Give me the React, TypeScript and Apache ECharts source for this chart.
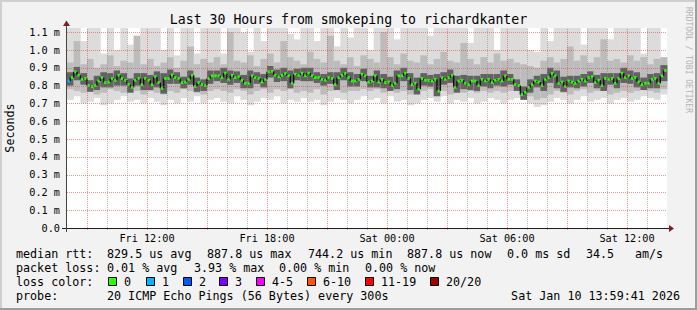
import React, { useEffect, useRef } from 'react';
import * as echarts from 'echarts';

// ---- data (milliseconds) ----
// median RTT, one value every 10 minutes starting Fri 08:00
const medianRtt = [
  0.826,0.845,0.878,0.858,0.835,0.84,0.8,0.795,0.8,0.826,0.845,0.817,0.82,0.84,0.83,0.858,0.84,0.83,0.806,0.79,0.83,0.84,
  0.806,0.84,0.83,0.806,0.85,0.817,0.785,0.84,0.84,0.86,0.845,0.84,0.817,0.82,0.835,0.858,0.795,0.817,0.806,0.8,0.84,0.855,
  0.855,0.855,0.845,0.87,0.835,0.858,0.845,0.85,0.83,0.813,0.813,0.855,0.845,0.84,0.82,0.835,0.878,0.88,0.858,0.85,0.858,0.868,0.855,
  0.813,0.864,0.858,0.87,0.855,0.87,0.855,0.845,0.845,0.835,0.83,0.845,0.84,0.806,0.845,0.858,0.868,0.845,0.826,0.826,0.835,0.864,
  0.855,0.82,0.826,0.855,0.82,0.835,0.817,0.82,0.8,0.813,0.855,0.855,0.87,0.84,0.806,0.813,0.78,0.84,0.83,0.83,0.826,0.835,0.77,
  0.845,0.835,0.845,0.858,0.79,0.826,0.83,0.813,0.806,0.826,0.826,0.8,0.835,0.826,0.835,0.817,0.83,0.835,0.826,0.855,0.835,0.835,
  0.806,0.8,0.75,0.763,0.79,0.806,0.826,0.82,0.8,0.835,0.845,0.868,0.855,0.813,0.82,0.795,0.826,0.82,0.813,0.826,0.835,0.826,0.845,
  0.85,0.817,0.83,0.8,0.84,0.835,0.84,0.813,0.84,0.87,0.845,0.855,0.84,0.845,0.82,0.806,0.813,0.813,0.835,0.84,0.813,0.855,0.885,
];
// smoke envelopes, one value every 20 minutes
const smokeMax = [
  1.13,1.13,1.05,1.13,1.13,0.98,1.13,1.0,1.13,1.03,1.08,1.13,1.13,1.13,1.0,1.13,0.97,1.13,1.13,0.98,1.13,1.13,
  1.13,0.98,1.13,1.13,1.1,0.99,1.13,1.05,1.13,1.13,1.13,1.09,1.06,1.13,1.13,1.05,1.13,1.13,1.02,1.13,1.07,1.13,1.13,
  1.0,1.13,1.13,1.13,1.06,1.13,1.13,1.13,1.13,1.08,1.13,1.13,1.13,1.13,1.13,1.04,1.13,1.13,1.13,1.0,1.13,1.13,1.13,
  1.13,1.0,0.99,1.13,1.05,1.13,1.13,1.13,1.13,1.03,1.13,1.13,1.13,1.06,1.13,1.13,1.13,1.13,0.98,1.13,1.13,0.94,
];
const smokeUpper = [
  0.93,1.05,0.92,0.95,0.9,0.92,0.97,0.91,0.94,0.93,1.08,0.92,0.95,0.91,0.93,0.96,0.9,0.94,1.02,0.92,0.95,0.93,
  0.96,0.92,1.1,0.94,0.93,0.97,0.91,0.95,0.98,0.93,1.05,0.96,0.94,0.92,0.99,0.95,0.93,1.08,0.94,0.92,0.96,0.91,0.97,
  0.95,0.93,1.1,0.96,0.92,0.98,0.94,0.93,0.97,0.92,0.95,0.99,0.94,0.93,1.04,0.95,0.92,0.96,0.93,0.98,0.94,0.95,0.93,
  0.92,0.91,0.9,0.94,0.96,0.93,0.95,1.02,0.94,0.97,0.93,0.96,1.06,0.94,0.95,0.93,0.97,0.94,0.96,0.92,0.95,0.96,
];
const smokeLower = [
  0.78,0.77,0.76,0.77,0.75,0.76,0.78,0.77,0.76,0.78,0.77,0.75,0.77,0.76,0.75,0.77,0.76,0.78,0.77,0.76,0.75,0.77,
  0.78,0.77,0.76,0.78,0.77,0.75,0.77,0.78,0.76,0.78,0.77,0.78,0.76,0.77,0.76,0.78,0.75,0.77,0.78,0.76,0.77,0.77,0.78,
  0.77,0.78,0.76,0.78,0.76,0.77,0.75,0.76,0.77,0.78,0.76,0.77,0.75,0.77,0.76,0.77,0.76,0.77,0.76,0.77,0.76,0.77,0.78,
  0.76,0.74,0.72,0.73,0.75,0.77,0.76,0.75,0.77,0.78,0.76,0.77,0.77,0.75,0.76,0.77,0.76,0.77,0.78,0.77,0.76,0.78,
];
const smokeMin = [
  0.72,0.74,0.7,0.71,0.73,0.69,0.7,0.72,0.74,0.71,0.72,0.7,0.73,0.71,0.69,0.72,0.7,0.73,0.71,0.74,0.7,0.72,
  0.73,0.71,0.7,0.74,0.72,0.69,0.71,0.73,0.72,0.74,0.7,0.72,0.71,0.73,0.71,0.72,0.69,0.71,0.73,0.72,0.7,0.72,0.74,
  0.72,0.73,0.7,0.74,0.71,0.72,0.69,0.7,0.72,0.73,0.71,0.74,0.7,0.72,0.71,0.73,0.7,0.71,0.73,0.72,0.7,0.72,0.73,
  0.72,0.7,0.68,0.69,0.71,0.73,0.72,0.7,0.72,0.74,0.71,0.72,0.73,0.7,0.72,0.73,0.71,0.72,0.74,0.73,0.72,0.75,
];
const coreHi = [
  0.875,0.905,0.87,0.83,0.855,0.875,0.87,0.885,0.87,0.84,0.87,0.87,0.86,0.88,0.87,0.89,0.875,0.85,0.885,0.845,0.835,0.885,
  0.885,0.9,0.885,0.88,0.86,0.885,0.875,0.865,0.91,0.89,0.9,0.885,0.895,0.9,0.9,0.875,0.865,0.875,0.875,0.9,0.875,0.865,0.895,
  0.855,0.885,0.865,0.85,0.885,0.9,0.87,0.845,0.87,0.86,0.865,0.875,0.89,0.855,0.86,0.855,0.855,0.865,0.865,0.865,0.885,0.865,
  0.835,0.795,0.835,0.855,0.865,0.9,0.885,0.85,0.855,0.855,0.865,0.88,0.86,0.87,0.87,0.87,0.9,0.885,0.875,0.845,0.865,0.87,0.915,
];
const coreLo = [
  0.8,0.83,0.805,0.765,0.775,0.79,0.79,0.8,0.8,0.76,0.8,0.775,0.775,0.79,0.755,0.81,0.81,0.785,0.805,0.765,0.77,0.81,
  0.825,0.815,0.805,0.815,0.785,0.785,0.81,0.79,0.845,0.82,0.825,0.785,0.83,0.825,0.825,0.815,0.8,0.81,0.775,0.83,0.795,0.795,0.825,
  0.79,0.79,0.785,0.77,0.78,0.825,0.775,0.75,0.8,0.795,0.74,0.805,0.815,0.76,0.78,0.775,0.77,0.795,0.785,0.8,0.795,0.805,
  0.77,0.72,0.76,0.79,0.77,0.815,0.785,0.765,0.79,0.785,0.795,0.815,0.785,0.77,0.805,0.785,0.815,0.81,0.79,0.775,0.785,0.785,0.825,
];
const lossOnePingSteps = [0];

const yTickValues = [0.1,0.2,0.3,0.4,0.5,0.6,0.7,0.8,0.9,1.0,1.1];
const majorHours = [1,4,7,10,13,16,19,22,25,28];
const minorHours = [2,3,5,6,8,9,11,12,14,15,17,18,20,21,23,24,26,27,29];
const xLabelHours = [4,10,16,22,28];
const xLabelTexts = ['Fri 12:00','Fri 18:00','Sat 00:00','Sat 06:00','Sat 12:00'];

const titleText = 'Last 30 Hours from smokeping to richardkanter';
const rttStats = ['829.5 us avg','887.8 us max','744.2 us min','887.8 us now','0.0 ms sd','34.5','am/s'];
const lossStats = ['0.01 % avg','3.93 % max','0.00 % min','0.00 % now'];
const lossLabels = ['0','1','2','3','4-5','6-10','11-19','20/20'];
const lossColors = ['#26ff00','#00b8ff','#0059ff','#7e00ff','#ff00ff','#ff5500','#ff0000','#a10000'];
const probeText = '20 ICMP Echo Pings (56 Bytes) every 300s';
const dateText = 'Sat Jan 10 13:59:41 2026';

// ---- layout ----
const W = 697, H = 310;
const GL = 67, GT = 28, GW = 600, GH = 200;
const YMAX = 1.1236;
const HOURS = 30;
const MSTEP = 1 / 6;
const BSTEP = 1 / 3;
const MONO = 'DejaVu Sans Mono';
const rttX = [107, 207, 308, 407, 507, 586, 635];
const lossX = [107, 194, 279, 365];
const boxX = [108, 146, 183, 219, 256, 307, 365, 430];

export default function App() {
  const ref = useRef<HTMLDivElement>(null);
  useEffect(() => {
    document.body.style.margin = '0';
    const chart = echarts.init(ref.current!, null, { renderer: 'svg' });

    const bandRows = smokeMax.map((mx, k) => [k, smokeMin[k], mx, smokeLower[k], smokeUpper[k], coreLo[k], coreHi[k]]);
    const medRows = medianRtt.map((m, i) => [i, m, i > 0 ? medianRtt[i - 1] : m]);
    const vRows = [...minorHours.map(h => [h, 0]), ...majorHours.map(h => [h, 1])];
    const hRows = yTickValues.map(v => [0, v]);

    const text = (x: number, y: number, s: string, extra: any = {}) => ({
      type: 'text', x, y, z: 100,
      style: { text: s, fill: '#000', font: `11.7px "${MONO}"`, textVerticalAlign: 'middle', ...extra },
    });

    const graphics: any[] = [
      { type: 'rect', z: 100, shape: { x: 0, y: 0, width: W, height: 2 }, style: { fill: '#cfcfcf' } },
      { type: 'rect', z: 100, shape: { x: 0, y: 0, width: 2, height: H }, style: { fill: '#cfcfcf' } },
      { type: 'rect', z: 100, shape: { x: W - 2, y: 0, width: 2, height: H }, style: { fill: '#9e9e9e' } },
      { type: 'rect', z: 100, shape: { x: 0, y: H - 2, width: W, height: 2 }, style: { fill: '#9e9e9e' } },
      { type: 'line', z: 100, shape: { x1: 62, y1: 228.5, x2: 670, y2: 228.5 }, style: { stroke: '#1f1f1f', lineWidth: 1 } },
      { type: 'polygon', z: 100, shape: { points: [[669, 225], [674, 228.5], [669, 232]] }, style: { fill: '#801f1f' } },
      { type: 'line', z: 100, shape: { x1: 66.5, y1: 232, x2: 66.5, y2: 24 }, style: { stroke: '#444', lineWidth: 1 } },
      { type: 'polygon', z: 100, shape: { points: [[63, 26], [66.5, 20.5], [70, 26]] }, style: { fill: '#801f1f' } },
      text(348.5, 19, titleText, { font: `13.2px "${MONO}"`, textAlign: 'center' }),
      { type: 'text', x: 10, y: 128, rotation: Math.PI / 2, z: 100,
        style: { text: 'Seconds', fill: '#000', font: `11.7px "${MONO}"`, textAlign: 'center', textVerticalAlign: 'middle' } },
      { type: 'text', x: 688, y: 60, rotation: -Math.PI / 2, z: 100,
        style: { text: 'RRDTOOL / TOBI OETIKER', fill: '#b4b4b4', font: `8px "${MONO}"`, textAlign: 'center', textVerticalAlign: 'middle' } },
      text(16, 254, 'median rtt:'),
      ...rttStats.map((s, i) => text(rttX[i], 254, s)),
      text(16, 268, 'packet loss:'),
      ...lossStats.map((s, i) => text(lossX[i], 268, s)),
      text(16, 282, 'loss color:'),
      ...lossLabels.map((s, i) => text(boxX[i] + 16, 282, s)),
      ...lossColors.map((c, i) => ({ type: 'rect', z: 100, shape: { x: boxX[i] + 0.5, y: 277.5, width: 8, height: 8 },
        style: { fill: c, stroke: '#000', lineWidth: 1 } })),
      text(16, 296, 'probe:'),
      text(107, 296, probeText),
      text(680, 296, dateText, { textAlign: 'right' }),
    ];

    const option: any = {
      animation: false,
      backgroundColor: '#f2f2f2',
      grid: { left: GL, top: GT, width: GW, height: GH, show: true, backgroundColor: '#ffffff', borderWidth: 0 },
      xAxis: {
        type: 'value', min: 0, max: HOURS, interval: 1,
        axisLine: { show: false }, axisTick: { show: false }, splitLine: { show: false },
        axisLabel: {
          margin: 5, color: '#000', fontFamily: MONO, fontSize: 10.2,
          formatter: (v: number) => { const k = xLabelHours.indexOf(Math.round(v)); return k >= 0 ? xLabelTexts[k] : ''; },
        },
      },
      yAxis: {
        type: 'value', min: 0, max: YMAX, interval: 0.1,
        axisLine: { show: false }, axisTick: { show: false }, splitLine: { show: false },
        axisLabel: {
          margin: 7, color: '#000', fontFamily: MONO, fontSize: 10.2, showMaxLabel: false,
          formatter: (v: number) => (v < 0.05 ? '0.0' : v.toFixed(1) + ' m'),
        },
      },
      graphic: graphics,
      series: [
        {
          type: 'custom', z: 2, silent: true, data: bandRows,
          renderItem: (p: any, api: any) => {
            const k = api.value(0);
            const x0 = api.coord([k * BSTEP, 0])[0];
            const x1 = api.coord([(k + 1) * BSTEP, 0])[0];
            const yy = (v: number) => api.coord([0, Math.min(v, YMAX)])[1];
            const band = (lo: number, hi: number, fill: string) => ({
              type: 'rect', shape: { x: x0, y: yy(hi), width: x1 - x0 + 0.4, height: yy(lo) - yy(hi) }, style: { fill },
            });
            return {
              type: 'group',
              children: [
                band(api.value(1), api.value(2), '#dcdcdc'),
                band(api.value(3), api.value(4), '#bcbcbc'),
                band(api.value(5), api.value(6), '#626262'),
              ],
            };
          },
        },
        {
          type: 'custom', z: 3, silent: true, data: medRows,
          renderItem: (p: any, api: any) => {
            const i = api.value(0);
            const a = api.coord([i * MSTEP, api.value(1)]);
            const b = api.coord([(i + 1) * MSTEP, api.value(1)]);
            const prev = api.coord([i * MSTEP, api.value(2)]);
            const w = b[0] - a[0];
            const color = lossOnePingSteps.indexOf(i) >= 0 ? lossColors[1] : lossColors[0];
            return {
              type: 'group',
              children: [
                { type: 'line', shape: { x1: a[0], y1: prev[1], x2: a[0], y2: a[1] }, style: { stroke: '#111', lineWidth: 1.4 } },
                { type: 'rect', shape: { x: a[0] + w * 0.15, y: a[1] - 1.4, width: w * 0.75, height: 2.8 }, style: { fill: color } },
              ],
            };
          },
        },
        {
          type: 'custom', z: 4, silent: true, data: vRows,
          renderItem: (p: any, api: any) => {
            const h = api.value(0);
            const x = Math.round(api.coord([h, 0])[0]) + 0.5;
            const major = api.value(1) === 1;
            return {
              type: 'line',
              shape: { x1: x, y1: GT + GH + 2, x2: x, y2: GT },
              style: { stroke: major ? 'rgba(222,79,79,0.6)' : 'rgba(143,143,143,0.6)', lineWidth: 1, lineDash: [1, 1] },
            };
          },
        },
        {
          type: 'custom', z: 4, silent: true, data: hRows,
          renderItem: (p: any, api: any) => {
            const y = Math.round(api.coord([0, api.value(1)])[1]) + 0.5;
            return {
              type: 'line',
              shape: { x1: GL, y1: y, x2: GL + GW, y2: y },
              style: { stroke: 'rgba(222,79,79,0.6)', lineWidth: 1, lineDash: [1, 1] },
            };
          },
        },
      ],
    };
    chart.setOption(option);
    return () => chart.dispose();
  }, []);
  return <div ref={ref} style={{ width: W, height: H }} />;
}
